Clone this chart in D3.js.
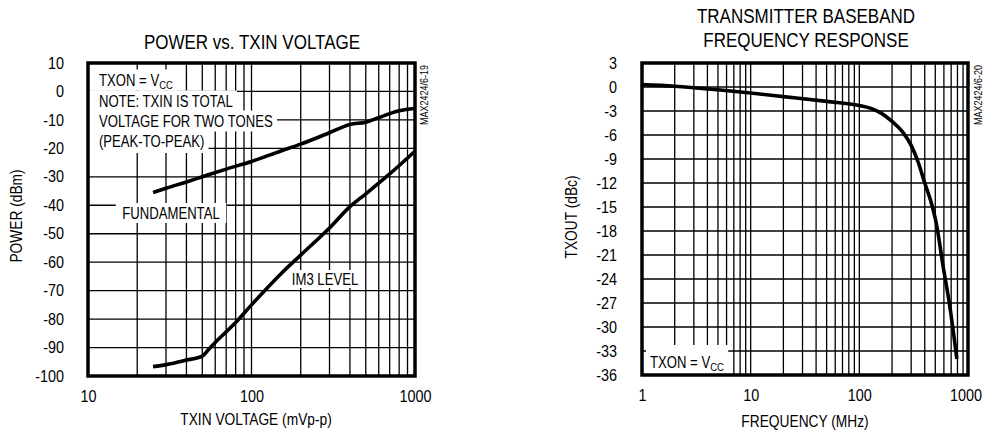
<!DOCTYPE html>
<html><head><meta charset="utf-8">
<script src="https://cdn.jsdelivr.net/npm/d3@7"></script>
<style>
body{margin:0;background:#fff}
text{font-family:"Liberation Sans",Arial,Helvetica,sans-serif;fill:#000}
</style>
</head><body>
<svg id="c" width="983" height="435"></svg>
<script>
// ---------- data ----------
const fundVoltage = [25,30,40,50,70,100,150,200,300,400,500,600,700,800,1000];
const fundPower   = [-35.5,-34,-31.8,-30,-27.3,-24.6,-21,-18.5,-14.5,-11.6,-10.8,-9.2,-7.8,-6.8,-6];
const im3Voltage  = [25,30,40,50,55,60,70,80,100,150,200,300,400,500,700,1000];
const im3Power    = [-96.7,-96,-94.4,-93,-90.5,-88.2,-84.5,-81.2,-75,-64.3,-57.5,-48,-40.5,-36,-29,-21];
const freqMHz     = [1,2,5,10,20,50,100,130,160,200,250,300,350,400,460,510,590,680,790];
const txoutDbc    = [0.3,0.1,-0.35,-0.75,-1.2,-1.8,-2.3,-2.7,-3.3,-4.3,-5.6,-7.3,-9.5,-12,-14.5,-17,-22.4,-27.4,-34];
const leftXTicks  = [10,100,1000];
const leftYTicks  = [10,0,-10,-20,-30,-40,-50,-60,-70,-80,-90,-100];
const rightXTicks = [1,10,100,1000];
const rightYTicks = [3,0,-3,-6,-9,-12,-15,-18,-21,-24,-27,-30,-33,-36];

// ---------- helpers ----------
const W = 983;
const svg = d3.select("#c");
function label(parent, x, y, size, sx, anchor, rot) {
  const g = parent.append("g")
    .attr("transform", `translate(${x},${y})` + (rot ? ` rotate(${rot})` : "") + ` scale(${sx},1)`);
  const t = g.append("text").attr("font-size", size).attr("text-anchor", anchor || "start");
  return {g, t};
}
function box(lbl, padL, padR, top, bottom) {
  const b = lbl.t.node().getBBox();
  lbl.g.insert("rect", "text")
    .attr("x", b.x - padL).attr("width", b.width + padL + padR)
    .attr("y", top).attr("height", bottom - top)
    .attr("fill", "#fff");
}
function vcc(t, pre) {
  t.append("tspan").text(pre + "V");
  t.append("tspan").attr("font-size", 11.5).attr("dy", 3).text("CC");
}

function panel(o) {
  const g = svg.append("g");
  const x = d3.scaleLog().domain(o.xDomain).range([o.left, o.right]);
  const y = d3.scaleLinear().domain(o.yDomain).range([o.bottom, o.top]);
  // grid
  g.append("g").selectAll("line").data(x.ticks()).join("line")
    .attr("x1", d => x(d)).attr("x2", d => x(d))
    .attr("y1", o.top).attr("y2", o.bottom)
    .attr("stroke", "#000").attr("stroke-width", 1.3);
  g.append("g").selectAll("line").data(o.yTicks).join("line")
    .attr("y1", d => y(d)).attr("y2", d => y(d))
    .attr("x1", o.left).attr("x2", o.right)
    .attr("stroke", "#000").attr("stroke-width", 1.3);
  // axes labels
  const ax = g.append("g").attr("transform", `translate(0,${o.bottom})`)
    .call(d3.axisBottom(x).tickValues(o.xTicks).tickFormat(d => String(d)).tickSize(0).tickPadding(15));
  const ay = g.append("g").attr("transform", `translate(${o.left},0)`)
    .call(d3.axisLeft(y).tickValues(o.yTicks).tickFormat(d => String(d)).tickSize(0).tickPadding(0));
  [ax, ay].forEach(a => { a.select(".domain").remove(); a.selectAll("text").attr("font-size", 16).attr("fill", "#000")
      .attr("font-family", '"Liberation Sans",Arial,sans-serif'); });
  ax.selectAll("text").attr("transform", "scale(0.9,1)").each(function () {
    // keep labels inside the picture
    const r = this.getBoundingClientRect();
    if (r.right > W - 1) d3.select(this).attr("x", -(r.right - (W - 1)) / 0.9);
  });
  ay.selectAll("text").attr("x", -o.yPad / 0.9).attr("transform", "scale(0.9,1)");
  return {g, x, y};
}
function curve(p, xs, ys) {
  const pts = xs.map((v, i) => [p.x(v), p.y(ys[i])]);
  p.g.append("path").attr("d", d3.line().curve(d3.curveMonotoneX)(pts))
    .attr("fill", "none").attr("stroke", "#000").attr("stroke-width", 3.6)
    .attr("stroke-linejoin", "round").attr("stroke-linecap", "butt");
}
function frame(p, o) {
  p.g.append("rect").attr("x", o.left).attr("y", o.top)
    .attr("width", o.right - o.left).attr("height", o.bottom - o.top)
    .attr("fill", "none").attr("stroke", "#000").attr("stroke-width", 3.5);
}

// ---------- left panel ----------
const L = {left: 88, right: 415, top: 63, bottom: 376, xDomain: [10,1000], yDomain: [-100,10],
  xTicks: leftXTicks, yTicks: leftYTicks, yPad: 24};
const pl = panel(L);
{
  const rows = [
    {y: 80, txt: null},
    {y: 101, txt: "NOTE: TXIN IS TOTAL"},
    {y: 121, txt: "VOLTAGE FOR TWO TONES"},
    {y: 141, txt: "(PEAK-TO-PEAK)"}
  ];
  rows.forEach((r, i) => {
    const l = label(pl.g, 99, r.y + 5.7, 16, 0.82, "start");
    if (r.txt) l.t.text(r.txt); else vcc(l.t, "TXON = ");
    box(l, 11 / 0.82, 5, -5.7 - 10.5, -5.7 + (i === 3 ? 12 : 10.5));
  });
  const f = label(pl.g, 171, 213 + 5.7, 16, 0.82, "middle");
  f.t.text("FUNDAMENTAL");
  box(f, 8, 8, -5.7 - 10, -5.7 + 10);
  const m = label(pl.g, 325, 279 + 5.7, 16, 0.82, "middle");
  m.t.text("IM3 LEVEL");
  box(m, 4, 4, -5.7 - 9, -5.7 + 9);
}
curve(pl, fundVoltage, fundPower);
curve(pl, im3Voltage, im3Power);
frame(pl, L);
label(svg, 252, 42 + 7.2, 20, 0.85, "middle").t.text("POWER vs. TXIN VOLTAGE");
label(svg, 256, 419 + 5.7, 16, 0.86, "middle").t.text("TXIN VOLTAGE (mVp-p)");
label(svg, 16 + 5.7, 216, 16, 0.86, "middle", -90).t.text("POWER (dBm)");
label(svg, 424 + 3.5, 125, 10, 0.9, "start", -90).t.text("MAX2424/6-19");

// ---------- right panel ----------
const R = {left: 642, right: 968, top: 63, bottom: 375, xDomain: [1,1000], yDomain: [-36,3],
  xTicks: rightXTicks, yTicks: rightYTicks, yPad: 25};
const pr = panel(R);
{
  const t = label(pr.g, 650, 362 + 5.7, 16, 0.82, "start");
  vcc(t.t, "TXON = ");
  box(t, 4 / 0.82, 5, -5.7 - 17, -5.7 + 12);
}
curve(pr, freqMHz, txoutDbc);
frame(pr, R);
label(svg, 806, 16 + 7.2, 20, 0.85, "middle").t.text("TRANSMITTER BASEBAND");
label(svg, 806, 40 + 7.2, 20, 0.85, "middle").t.text("FREQUENCY RESPONSE");
label(svg, 805, 421 + 5.7, 16, 0.86, "middle").t.text("FREQUENCY (MHz)");
label(svg, 571 + 5.7, 217, 16, 0.86, "middle", -90).t.text("TXOUT (dBc)");
label(svg, 978 + 3.5, 125, 10, 0.9, "start", -90).t.text("MAX2424/6-20");
</script>
</body></html>
